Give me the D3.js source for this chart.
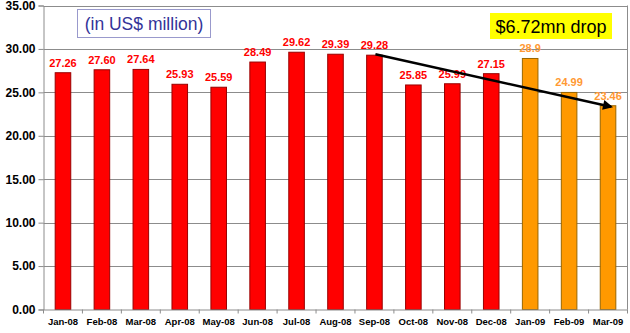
<!DOCTYPE html>
<html><head><meta charset="utf-8">
<script src="https://cdn.jsdelivr.net/npm/d3@7"></script>
<style>body{margin:0;background:#fff}svg{display:block;font-family:"Liberation Sans",Arial,sans-serif}</style>
</head><body><svg id="c" width="630" height="333"></svg>
<script>
const months = ["Jan-08","Feb-08","Mar-08","Apr-08","May-08","Jun-08","Jul-08","Aug-08","Sep-08","Oct-08","Nov-08","Dec-08","Jan-09","Feb-09","Mar-09"];
const values = [27.26,27.60,27.64,25.93,25.59,28.49,29.62,29.39,29.28,25.85,25.99,27.15,28.9,24.99,23.46];
const labels = ["27.26","27.60","27.64","25.93","25.59","28.49","29.62","29.39","29.28","25.85","25.99","27.15","28.9","24.99","23.46"];
const years = ["2008","2008","2008","2008","2008","2008","2008","2008","2008","2008","2008","2008","2009","2009","2009"];
const yTicks = [0,5,10,15,20,25,30,35];
const unitNote = "(in US$ million)";
const dropNote = "$6.72mn drop";
const arrowFrom = "Sep-08", arrowTo = "Mar-09";

const svg = d3.select("#c");
const L = 43.5, R = 627.5, T = 5.5, B = 309.5;
const x = d3.scaleBand().domain(months).range([L, R]).paddingInner(0.6).paddingOuter(0.3);
const xc = d3.scaleBand().domain(months).range([L, R]);
const y = d3.scaleLinear().domain([0, 35]).range([B, T]);
const fill = {"2008":"#ff0000","2009":"#ff9900"};
const stroke = {"2008":"#990000","2009":"#996600"};
const lab = {"2008":"#ff0000","2009":"#ff9933"};

// grid
svg.append("g").selectAll("line").data(yTicks.filter(d=>d>0)).join("line")
  .attr("x1", L).attr("x2", R).attr("y1", d=>Math.round(y(d))+0.5).attr("y2", d=>Math.round(y(d))+0.5)
  .attr("stroke", "#8c8c8c").attr("stroke-width", 1);
svg.append("line").attr("x1", R).attr("x2", R).attr("y1", T).attr("y2", B).attr("stroke", "#8c8c8c");

// bars
svg.append("g").selectAll("rect").data(months).join("rect")
  .attr("x", d=>x(d)).attr("width", x.bandwidth())
  .attr("y", (d,i)=>y(values[i])).attr("height", (d,i)=>B - y(values[i]))
  .attr("fill", (d,i)=>fill[years[i]]).attr("stroke", (d,i)=>stroke[years[i]]).attr("stroke-width", 1);

// y axis
const ya = svg.append("g").attr("transform", `translate(${L},0)`)
  .call(d3.axisLeft(y).tickValues(yTicks).tickFormat(d3.format(".2f")).tickSize(5).tickPadding(3));
ya.select(".domain").attr("stroke", "#8c8c8c");
ya.selectAll(".tick line").attr("stroke", "#8c8c8c");
ya.selectAll("text").attr("font-size", 12).attr("font-weight", "bold").attr("fill", "#000").attr("font-family", "Liberation Sans, Arial, sans-serif");

// x axis
const xa = svg.append("g").attr("transform", `translate(0,${B})`)
  .call(d3.axisBottom(xc).tickSize(0).tickPadding(9));
xa.select(".domain").attr("stroke", "#8c8c8c");
xa.selectAll("text").attr("font-size", 9.5).attr("font-weight", "bold").attr("fill", "#000").attr("font-family", "Liberation Sans, Arial, sans-serif");
svg.append("g").selectAll("line").data(months.concat(["_end"])).join("line")
  .attr("x1", (d,i)=>L + i*xc.step()).attr("x2", (d,i)=>L + i*xc.step())
  .attr("y1", B).attr("y2", B+4).attr("stroke", "#8c8c8c");

// data labels
svg.append("g").selectAll("text").data(months).join("text")
  .attr("x", d=>x(d)+x.bandwidth()/2).attr("y", (d,i)=>y(values[i]) - 6)
  .attr("text-anchor", "middle").attr("font-size", 11).attr("font-weight", "bold")
  .attr("fill", (d,i)=>lab[years[i]]).text((d,i)=>labels[i]);

// unit note box
svg.append("rect").attr("x", 77.5).attr("y", 9.5).attr("width", 133).attr("height", 28)
  .attr("fill", "#fff").attr("stroke", "#9999cc");
svg.append("text").attr("x", 144).attr("y", 29.5).attr("text-anchor", "middle")
  .attr("font-size", 17.5).attr("fill", "#333399").text(unitNote);

// drop note
svg.append("rect").attr("x", 490).attr("y", 13).attr("width", 122).attr("height", 26).attr("fill", "#ffff00");
svg.append("text").attr("x", 551).attr("y", 32.5).attr("text-anchor", "middle")
  .attr("font-size", 18).attr("fill", "#000").text(dropNote);

// arrow
const defs = svg.append("defs");
defs.append("marker").attr("id", "ah").attr("viewBox", "0 0 10 10").attr("refX", 8).attr("refY", 5)
  .attr("markerWidth", 4.5).attr("markerHeight", 4).attr("orient", "auto")
  .append("path").attr("d", "M0,0L10,5L0,10z").attr("fill", "#000");
const i0 = months.indexOf(arrowFrom), i1 = months.indexOf(arrowTo);
svg.append("line")
  .attr("x1", x(arrowFrom)+x.bandwidth()/2 + 1).attr("y1", y(values[i0]) - 1)
  .attr("x2", x(arrowTo)+x.bandwidth()/2 + 3).attr("y2", y(values[i1]) + 1)
  .attr("stroke", "#000").attr("stroke-width", 2.5).attr("marker-end", "url(#ah)");
</script></body></html>
